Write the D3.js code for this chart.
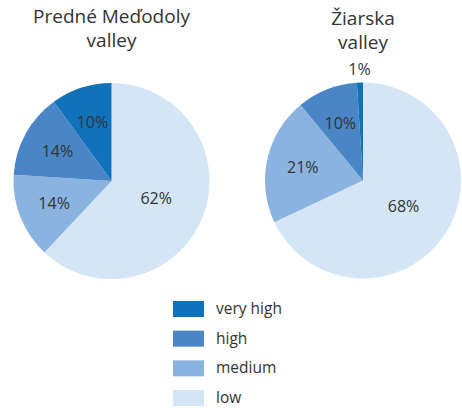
<!DOCTYPE html>
<html><head><meta charset="utf-8">
<script src="https://cdn.jsdelivr.net/npm/d3@7"></script>
<style>body{margin:0;background:#fff}svg{display:block}</style>
</head><body>
<svg id="c" width="462" height="408"></svg>
<script>
const categories = ["very high", "high", "medium", "low"];
const colors = ["#1072BA", "#4A86C6", "#8AB3E0", "#D4E5F5"];
const valleyTitles = [["Predné Meďodoly", "valley"], ["Žiarska", "valley"]];
const predneValues = [10, 14, 14, 62];
const ziarskaValues = [1, 10, 21, 68];
const pieValues = [predneValues, ziarskaValues];

const svg = d3.select("#c");
const font = "'Open Sans', sans-serif";
const textColor = "#333";
const color = d3.scaleOrdinal().domain(categories).range(colors);

// pie draws clockwise from 12 o'clock: low first, then medium, high, very high
const drawOrder = ["low", "medium", "high", "very high"];
const pie = d3.pie().sort(null).value(d => d.v);
const R = 98;
const centers = [[111.5, 181], [363, 180.5]];
const titleY = [[23, 47], [25, 49]];

pieValues.forEach((vals, i) => {
  const data = drawOrder.map(c => ({c, v: vals[categories.indexOf(c)]}));
  const arcs = pie(data);
  const g = svg.append("g").attr("transform", `translate(${centers[i][0]},${centers[i][1]})`);
  const arc = d3.arc().innerRadius(0).outerRadius(R);
  g.selectAll("path").data(arcs).join("path")
    .attr("d", arc).attr("fill", d => color(d.data.c));
  const maxV = d3.max(vals);
  g.selectAll("text").data(arcs).join("text")
    .attr("transform", d => {
      const a = (d.startAngle + d.endAngle) / 2;
      let rr = d.data.v === maxV ? R * 0.49 : (d.data.v < 3 ? R + 13 : R * 0.63);
      return `translate(${Math.sin(a) * rr},${-Math.cos(a) * rr})`;
    })
    .attr("text-anchor", "middle").attr("dy", "0.36em")
    .attr("font-family", font).attr("font-size", 16).attr("fill", textColor)
    .text(d => d.data.v + "%");
  valleyTitles[i].forEach((t, j) => {
    svg.append("text").attr("x", centers[i][0]).attr("y", titleY[i][j])
      .attr("text-anchor", "middle").attr("font-family", font)
      .attr("font-size", 19).attr("fill", textColor).text(t);
  });
});

const legend = svg.append("g").attr("transform", "translate(173,301)");
const ly = d3.scalePoint().domain(categories).range([0, 89]);
categories.forEach(c => {
  legend.append("rect").attr("x", 0).attr("y", ly(c)).attr("width", 31).attr("height", 16)
    .attr("fill", color(c));
  legend.append("text").attr("x", 43).attr("y", ly(c) + 13)
    .attr("font-family", font).attr("font-size", 15.5).attr("fill", textColor).text(c);
});
</script>
</body></html>
